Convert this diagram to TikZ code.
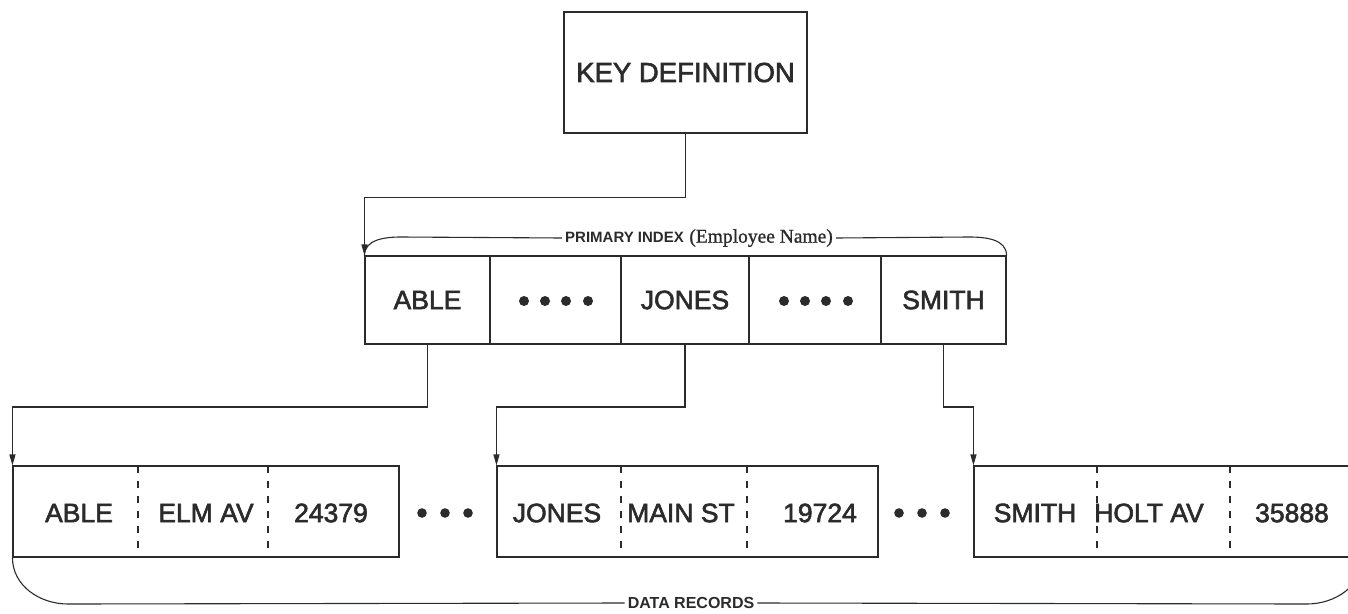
\documentclass[tikz,border=0pt]{standalone}
\usepackage{fontspec}
\setmainfont{Liberation Sans}[FakeBold=2.2]
\newfontfamily\labsans{Liberation Sans Bold}
\newfontfamily\labserif{Liberation Serif}[FakeBold=1]
\usetikzlibrary{arrows.meta}
\definecolor{ink}{HTML}{2B2B2B}
\tikzset{
  big/.style={font=\fontsize{26.5}{30}\selectfont, text=ink},
  cellbox/.style={draw=ink, line width=1.1pt, minimum height=88pt, inner sep=0pt, big},
  recbox/.style={draw=ink, line width=1.1pt, minimum height=91pt, inner sep=0pt},
  rtext/.style={big, inner sep=0pt},
  wire/.style={draw=ink, line width=1.1pt},
  arr/.style={wire, -{Stealth[length=11pt,width=6pt,inset=0pt]}},
  divider/.style={draw=ink, line width=1.1pt, dash pattern=on 7pt off 8pt},
  smalllab/.style={text=ink, inner xsep=3pt, inner ysep=0pt},
  dot/.style={fill=ink}
}
\begin{document}
\begin{tikzpicture}[x=1pt,y=-1pt]
\clip (0,0) rectangle (1348,613);
\fill[white] (0,0) rectangle (1348,613);

% key definition
\node[cellbox, minimum width=243pt, minimum height=121pt, font=\fontsize{27.5}{31}\selectfont] (key) at (685.5,72.5) {KEY DEFINITION};

% primary index cells
\node[cellbox, minimum width=125pt] (iable)  at (427.5,300) {ABLE};
\node[cellbox, minimum width=131pt] (idots1) at (555.5,300) {};
\node[cellbox, minimum width=128pt] (ijones) at (685,300) {JONES};
\node[cellbox, minimum width=132pt] (idots2) at (815,300) {};
\node[cellbox, minimum width=125pt] (ismith) at (943.5,300) {SMITH};
\foreach \x in {524,545,566,588} \fill[dot] (\x,301) circle (5);
\foreach \x in {784,805,826,848} \fill[dot] (\x,301) circle (5);

% index label bracket
\node[smalllab] (plab) at (699,238) {{\labsans\fontsize{15}{18}\selectfont PRIMARY INDEX}\ \ {\labserif\fontsize{19.5}{22}\selectfont (Employee Name)}};
\draw[wire] (iable.north west) to[out=90,in=180] (401,237) -- (plab.west);
\draw[wire] (plab.east) -- (969,237) to[out=0,in=90] (ismith.north east);

% key -> index
\draw[arr] (key.south) -- ++(0,64) -| (iable.north west);

% data records
\node[recbox, minimum width=386pt] (r1) at (206,511.5) {};
\node[recbox, minimum width=381pt] (r2) at (687.5,511.5) {};
\node[recbox, minimum width=388pt] (r3) at (1168,511.5) {};

\draw[divider] (138,466) -- (138,557);
\draw[divider] (268,466) -- (268,557);
\draw[divider] (621,466) -- (621,557);
\draw[divider] (747,466) -- (747,557);
\draw[divider] (1097,466) -- (1097,557);
\draw[divider] (1230,466) -- (1230,557);

\node[rtext] (t11) at (79,513) {ABLE};
\node[rtext] (t12) at (206,513) {ELM AV};
\node[rtext] (t13) at (331,513) {24379};
\node[rtext] (t21) at (557,513) {JONES};
\node[rtext] (t22) at (681,513) {MAIN ST};
\node[rtext] (t23) at (820,513) {19724};
\node[rtext] (t31) at (1035,513) {SMITH};
\node[rtext] (t32) at (1149,513) {HOLT AV};
\node[rtext] (t33) at (1292,513) {35888};

\foreach \x in {422,445,468} \fill[dot] (\x,513) circle (4.8);
\foreach \x in {899,922,945} \fill[dot] (\x,513) circle (4.8);

% index -> records
\draw[arr] (iable.south) -- (iable.south |- 0,407) -| (r1.north west);
\draw[arr] (ijones.south) -- (ijones.south |- 0,407) -| (r2.north west);
\draw[arr] (ismith.south) -- (ismith.south |- 0,407) -| (r3.north west);

% data records bracket
\node[smalllab, font=\labsans\fontsize{16}{20}\selectfont] (dlab) at (691,603) {DATA RECORDS};
\draw[wire] (r1.south west) to[out=-90,in=180] (68,604) -- (dlab.west);
\draw[wire] (dlab.east) -- (1307,604) to[out=0,in=-90] (r3.south east);
\end{tikzpicture}
\end{document}
